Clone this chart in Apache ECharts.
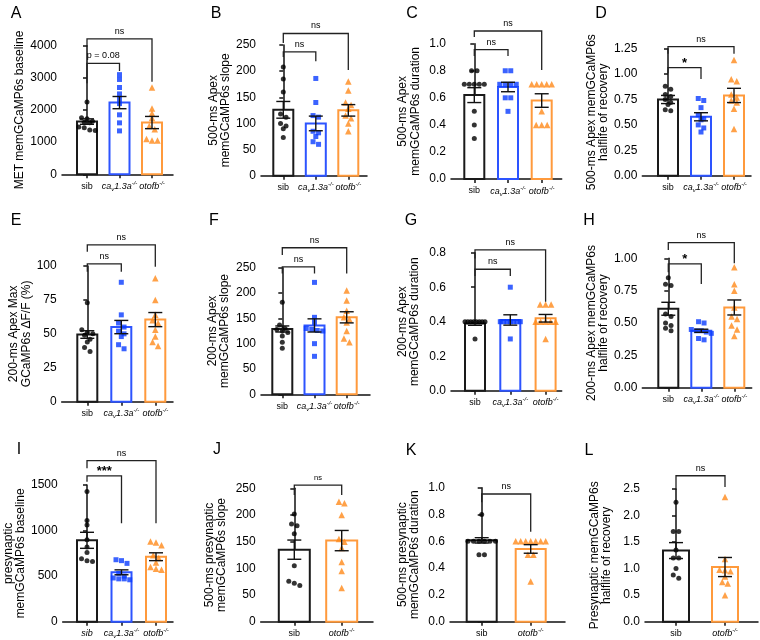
<!DOCTYPE html>
<html lang="en">
<head>
<meta charset="UTF-8">
<title>memGCaMP6s panels</title>
<script src="https://cdn.jsdelivr.net/npm/echarts@6.0.0/dist/echarts.min.js"></script>
<style>
    html, body { margin: 0; padding: 0; background: #fff; }
    #chart { width: 760px; height: 640px; }
</style>
</head>
<body>
<div id="chart"></div>
<script>
// ---- data ----
var groups3 = ['sib', 'cav', 'otofb'];
var groups2 = ['sib', 'otofb'];

// A  MET baseline
var aSib = [2250, 1760, 1730, 1650, 1620, 1600, 1470, 1450, 1380, 1360];
var aCav = [3100, 2950, 2700, 2500, 2350, 2200, 1850, 1600, 1350];
var aOto = [2700, 2050, 1900, 1750, 1500, 1400, 1100, 1050, 1050];
var aMean = [1640, 2230, 1610];
var aSem = [85, 190, 190];
var aBr = [[0, 1, 3450, 2830, 3210], [0, 2, 4210, 3970, 2880]];
var aBrText = ['p = 0.08', 'ns'];

// B  500-ms slope
var bSib = [208, 185, 160, 118, 112, 100, 95, 90, 73];
var bCav = [186, 140, 115, 112, 85, 82, 75, 65, 60];
var bOto = [180, 163, 140, 135, 128, 115, 110, 100, 85];
var bMean = [126, 100, 125];
var bSem = [16, 14, 11];
var bBr = [[0, 1, 237, 227, 219], [0, 2, 272, 254, 202]];
var bBrText = ['ns', 'ns'];

// C  500-ms duration
var cSib = [0.8, 0.8, 0.7, 0.7, 0.7, 0.7, 0.7, 0.5, 0.4, 0.3];
var cCav = [0.8, 0.8, 0.7, 0.7, 0.7, 0.7, 0.6, 0.6, 0.5];
var cOto = [0.7, 0.7, 0.7, 0.7, 0.7, 0.5, 0.4, 0.4, 0.4];
var cMean = [0.62, 0.68, 0.58];
var cSem = [0.055, 0.035, 0.05];
var cBr = [[0, 1, 0.956, 0.909, 0.909], [0, 2, 1.094, 1.05, 0.806]];
var cBrText = ['ns', 'ns'];

// D  500-ms halflife
var dSib = [0.88, 0.85, 0.80, 0.78, 0.75, 0.72, 0.70, 0.65, 0.64];
var dCav = [0.76, 0.74, 0.67, 0.60, 0.56, 0.55, 0.50, 0.47, 0.43];
var dOto = [1.14, 0.95, 0.93, 0.80, 0.77, 0.74, 0.72, 0.66, 0.46];
var dMean = [0.75, 0.58, 0.79];
var dSem = [0.04, 0.04, 0.07];
var dBr = [[0, 1, 1.063, 1.008, 0.952], [0, 2, 1.27, 1.2, 1.2]];
var dBrText = ['*', 'ns'];

// E  200-ms max dF/F
var eSib = [73, 53, 51, 50, 49, 46, 44, 40, 37];
var eCav = [88, 64, 58, 55, 52, 50, 48, 42, 39];
var eOto = [91, 75, 64, 60, 58, 53, 48, 44, 41];
var eMean = [49.5, 55, 60.5];
var eSem = [2.8, 4.9, 5.2];
var eBr = [[0, 1, 101.5, 95.8, 95.8], [0, 2, 115.5, 110.5, 99.5]];
var eBrText = ['ns', 'ns'];

// F  200-ms slope
var fSib = [182, 137, 130, 128, 125, 122, 115, 103, 91];
var fCav = [221, 152, 142, 130, 128, 126, 125, 100, 75];
var fOto = [205, 185, 165, 152, 148, 142, 125, 110, 103];
var fMean = [129, 136, 152];
var fSem = [6, 13, 11];
var fBr = [[0, 1, 251.8, 238.6, 238.6], [0, 2, 289.4, 275, 238.6]];
var fBrText = ['ns', 'ns'];

// G  200-ms duration
var gSib = [0.4, 0.4, 0.4, 0.4, 0.4, 0.4, 0.4, 0.4, 0.3];
var gCav = [0.6, 0.4, 0.4, 0.4, 0.4, 0.4, 0.4, 0.4, 0.3];
var gOto = [0.5, 0.5, 0.5, 0.4, 0.4, 0.4, 0.4, 0.4, 0.3];
var gMean = [0.39, 0.41, 0.42];
var gSem = [0.011, 0.03, 0.022];
var gBr = [[0, 1, 0.704, 0.665, 0.665], [0, 2, 0.816, 0.767, 0.516]];
var gBrText = ['ns', 'ns'];

// H  200-ms halflife
var hSib = [0.85, 0.80, 0.79, 0.57, 0.55, 0.50, 0.48, 0.46, 0.44];
var hCav = [0.51, 0.50, 0.45, 0.44, 0.44, 0.43, 0.42, 0.38, 0.37];
var hOto = [0.93, 0.80, 0.75, 0.62, 0.55, 0.53, 0.48, 0.45, 0.40];
var hMean = [0.61, 0.44, 0.62];
var hSem = [0.05, 0.012, 0.058];
var hBr = [[0, 1, 0.957, 0.892, 0.802], [0, 2, 1.121, 1.065, 0.962]];
var hBrText = ['*', 'ns'];

// I  presynaptic baseline
var iSib = [1430, 1110, 1060, 900, 820, 760, 690, 670, 660];
var iCav = [680, 670, 640, 530, 500, 480, 470, 470, 460];
var iOto = [880, 870, 840, 730, 700, 650, 600, 580, 570];
var iMean = [893, 542, 713];
var iSem = [88, 27, 43];
var iBr = [[0, 1, 1600, 1537, 1080], [0, 2, 1767, 1684, 1080]];
var iBrText = ['***', 'ns'];

// J  500-ms presynaptic slope
var jSib = [202, 183, 180, 165, 105, 76, 72, 68];
var jOto = [225, 222, 200, 155, 150, 138, 112, 95, 63];
var jMean = [135, 152];
var jSem = [18, 19];
var jBr = [[0, 1, 256, 237.6, 237.6]];
var jBrText = ['ns'];

// K  500-ms presynaptic duration
var kSib = [0.8, 0.6, 0.6, 0.6, 0.6, 0.6, 0.6, 0.5, 0.5];
var kOto = [0.6, 0.6, 0.6, 0.6, 0.6, 0.6, 0.6, 0.5, 0.5, 0.3];
var kMean = [0.607, 0.543];
var kSem = [0.02, 0.032];
var kBr = [[0, 1, 0.953, 0.891, 0.672]];
var kBrText = ['ns'];

// L  presynaptic halflife
var lSib = [2.25, 1.70, 1.70, 1.35, 1.20, 1.20, 1.0, 0.88, 0.82];
var lOto = [2.35, 1.18, 0.98, 0.97, 0.95, 0.85, 0.75, 0.72, 0.5];
var lMean = [1.34, 1.03];
var lSem = [0.15, 0.18];
var lBr = [[0, 1, 2.75, 2.48, 2.54]];
var lBrText = ['ns'];

// ---- styles ----
var FONT = '"Liberation Sans", Arial, Helvetica, sans-serif';
var look = {
    sib:   { bar: '#1a1a1a', pt: '#000000', symbol: 'circle',   size: 5 },
    cav:   { bar: '#2d54ff', pt: '#0a3cff', symbol: 'rect',     size: 5 },
    otofb: { bar: '#ff9a3c', pt: '#ff8a1a', symbol: 'triangle', size: 6.5 }
};

// panel layout (pixels)
var panels = [
    { L: 'A', g: groups3, pts: [aSib, aCav, aOto], mean: aMean, sem: aSem, br: aBr, brText: aBrText,
      max: 4000, step: 1000, dec: 0, name: 'MET memGCaMP6s baseline', nameGap: 34,
      left: 62, top: 45.7, bottom: 174.3, end: 173, c0: 87, sp: 32.5, barW: 22, letter: [16, 14] },
    { L: 'B', g: groups3, pts: [bSib, bCav, bOto], mean: bMean, sem: bSem, br: bBr, brText: bBrText,
      max: 250, step: 50, dec: 0, name: '500-ms Apex\nmemGCaMP6s slope', nameGap: 28.5,
      left: 261, top: 45, bottom: 175.7, end: 367, c0: 283.3, sp: 32.5, barW: 22, letter: [216, 14] },
    { L: 'C', g: groups3, pts: [cSib, cCav, cOto], mean: cMean, sem: cSem, br: cBr, brText: cBrText,
      max: 1.0, step: 0.2, dec: 1, name: '500-ms Apex\nmemGCaMP6s duration', nameGap: 29.5,
      left: 451, top: 43.7, bottom: 179, end: 561.7, c0: 474.3, sp: 33.7, barW: 22, letter: [412, 14] },
    { L: 'D', g: groups3, pts: [dSib, dCav, dOto], mean: dMean, sem: dSem, br: dBr, brText: dBrText,
      max: 1.25, step: 0.25, dec: 2, name: '500-ms Apex memGCaMP6s\nhalflife of recovery', nameGap: 29.6,
      left: 642.3, top: 48.7, bottom: 175.7, end: 751, c0: 668, sp: 33, barW: 22, letter: [601, 14] },
    { L: 'E', g: groups3, pts: [eSib, eCav, eOto], mean: eMean, sem: eSem, br: eBr, brText: eBrText,
      max: 100, step: 25, dec: 0, name: '200-ms Apex Max\nGCaMP6s \u0394F/F (%)', nameGap: 29.2,
      left: 61.7, top: 266, bottom: 401.7, end: 173, c0: 87.3, sp: 34, barW: 22, letter: [16, 221] },
    { L: 'F', g: groups3, pts: [fSib, fCav, fOto], mean: fMean, sem: fSem, br: fBr, brText: fBrText,
      max: 250, step: 50, dec: 0, name: '200-ms Apex\nmemGCaMP6s slope', nameGap: 30,
      left: 261, top: 267.7, bottom: 394.3, end: 370, c0: 282.3, sp: 32.2, barW: 22, letter: [214, 221] },
    { L: 'G', g: groups3, pts: [gSib, gCav, gOto], mean: gMean, sem: gSem, br: gBr, brText: gBrText,
      max: 0.8, step: 0.2, dec: 1, name: '200-ms Apex\nmemGCaMP6s duration', nameGap: 30,
      left: 451, top: 252.7, bottom: 390.7, end: 561.7, c0: 475, sp: 35.3, barW: 22, letter: [411, 221] },
    { L: 'H', g: groups3, pts: [hSib, hCav, hOto], mean: hMean, sem: hSem, br: hBr, brText: hBrText,
      max: 1.0, step: 0.25, dec: 2, name: '200-ms Apex memGCaMP6s\nhalflife of recovery', nameGap: 30,
      left: 642.3, top: 258.3, bottom: 387.7, end: 751.7, c0: 668.3, sp: 33, barW: 22, letter: [589, 221] },
    { L: 'I', g: groups3, pts: [iSib, iCav, iOto], mean: iMean, sem: iSem, br: iBr, brText: iBrText,
      max: 1500, step: 500, dec: 0, name: 'presynaptic\nmemGCaMP6s baseline', nameGap: 34.7, italicSib: true,
      left: 62.7, top: 485, bottom: 621.7, end: 173, c0: 87, sp: 34.5, barW: 22, letter: [19, 450] },
    { L: 'J', g: groups2, pts: [jSib, jOto], mean: jMean, sem: jSem, br: jBr, brText: jBrText, brSize: 7.5,
      max: 250, step: 50, dec: 0, name: '500-ms presynaptic\nmemGCaMP6s slope', nameGap: 32.7,
      left: 260.7, top: 488.3, bottom: 621.7, end: 373, c0: 294.3, sp: 47.4, barW: 33, letter: [217, 450] },
    { L: 'K', g: groups2, pts: [kSib, kOto], mean: kMean, sem: kSem, br: kBr, brText: kBrText,
      max: 1.0, step: 0.2, dec: 1, name: '500-ms presynaptic\nmemGCaMP6s duration', nameGap: 29,
      left: 450, top: 487.7, bottom: 621.7, end: 565, c0: 481.7, sp: 49, barW: 32, letter: [411, 451] },
    { L: 'L', g: groups2, pts: [lSib, lOto], mean: lMean, sem: lSem, br: lBr, brText: lBrText,
      max: 2.5, step: 0.5, dec: 1, name: 'Presynaptic memGCaMP6s\nhalflife of recovery', nameGap: 31.7,
      left: 645, top: 489, bottom: 621.7, end: 758, c0: 676, sp: 49, barW: 28, letter: [589, 451] }
];

// spread points that sit at nearly the same height into a row
function swarm(vals, pxY, sp, d, half) {
    var idx = vals.map(function (v, i) { return i; })
        .sort(function (a, b) { return vals[b] - vals[a]; });
    var off = [], k = 0;
    while (k < idx.length) {
        var row = [idx[k]], y0 = vals[idx[k]] * pxY;
        k++;
        while (k < idx.length && y0 - vals[idx[k]] * pxY < d * 0.8) { row.push(idx[k]); k++; }
        var st = row.length > 1 ? Math.min(d, 2 * half / (row.length - 1)) : 0;
        row.forEach(function (id, r) { off[id] = (r - (row.length - 1) / 2) * st / sp; });
    }
    return off;
}

function catLabel(g, italicSib) {
    if (g === 'sib') return italicSib ? '{it|sib}' : '{n|sib}';
    if (g === 'cav') return '{it|ca}{sub|v}{it|1.3a}{sup|-/-}';
    return '{it|otofb}{sup|-/-}';
}

var grids = [], xAxes = [], yAxes = [], series = [], graphics = [];

panels.forEach(function (p, i) {
    var ticks = p.g.map(function (g, j) { return j; });
    grids.push({ left: p.left, top: p.top, width: p.end - p.left, height: p.bottom - p.top });

    xAxes.push({
        gridIndex: i, type: 'value',
        min: -(p.c0 - p.left) / p.sp, max: (p.end - p.c0) / p.sp,
        axisLine: { show: true, onZero: false, lineStyle: { color: '#111', width: 1.5 } },
        axisTick: { show: true, customValues: ticks, length: 4, lineStyle: { color: '#111', width: 1.5 } },
        axisLabel: {
            customValues: ticks, margin: 6, color: '#000',
            hideOverlap: false, showMinLabel: true, showMaxLabel: true,
            formatter: function (v) { return catLabel(p.g[Math.round(v)], p.italicSib); },
            rich: {
                n:   { fontSize: 9, fontFamily: FONT, color: '#000', lineHeight: 12 },
                it:  { fontSize: 9, fontFamily: FONT, fontStyle: 'italic', color: '#000', lineHeight: 12 },
                sup: { fontSize: 6, fontFamily: FONT, fontStyle: 'italic', color: '#000', lineHeight: 6, verticalAlign: 'top' },
                sub: { fontSize: 6, fontFamily: FONT, fontStyle: 'italic', color: '#000', lineHeight: 6, verticalAlign: 'bottom' }
            }
        },
        splitLine: { show: false }
    });

    yAxes.push({
        gridIndex: i, type: 'value', min: 0, max: p.max, interval: p.step,
        axisLine: { show: true, lineStyle: { color: '#111', width: 1.5 } },
        axisTick: { show: true, length: 4, lineStyle: { color: '#111', width: 1.5 } },
        axisLabel: {
            margin: 5, fontSize: 12, fontFamily: FONT, color: '#000',
            formatter: function (v) { return v.toFixed(p.dec); }
        },
        splitLine: { show: false },
        name: p.name, nameLocation: 'middle', nameGap: p.nameGap,
        nameTextStyle: { fontSize: 12, fontFamily: FONT, color: '#000', lineHeight: 12.5 }
    });

    // bars (white fill, coloured outline)
    series.push({
        type: 'custom', xAxisIndex: i, yAxisIndex: i, z: 1,
        data: p.mean.map(function (m, j) { return [j, m]; }),
        renderItem: function (params, api) {
            var j = api.value(0);
            var top = api.coord([j, api.value(1)]);
            var base = api.coord([j, 0]);
            var w = p.barW - 2;
            return {
                type: 'rect',
                shape: { x: top[0] - w / 2, y: top[1], width: w, height: base[1] - top[1] },
                style: { fill: '#fff', stroke: look[p.g[j]].bar, lineWidth: 2 }
            };
        }
    });

    // individual points
    var pxY = (p.bottom - p.top) / p.max;
    p.pts.forEach(function (vals, j) {
        var lk = look[p.g[j]];
        var off = swarm(vals, pxY, p.sp, 5.5, p.barW / 2 - 1);
        series.push({
            type: 'scatter', xAxisIndex: i, yAxisIndex: i, z: 2,
            symbol: lk.symbol, symbolSize: lk.size,
            itemStyle: { color: lk.pt },
            data: vals.map(function (v, k) { return [j + off[k], v]; })
        });
    });

    // mean +/- SEM
    series.push({
        type: 'custom', xAxisIndex: i, yAxisIndex: i, z: 3,
        data: p.mean.map(function (m, j) { return [j, m, p.sem[j]]; }),
        renderItem: function (params, api) {
            var j = api.value(0), m = api.value(1), s = api.value(2);
            var hi = api.coord([j, m + s]), lo = api.coord([j, m - s]);
            var cw = 7;
            var st = { stroke: '#111', lineWidth: 1.4 };
            return {
                type: 'group',
                children: [
                    { type: 'line', shape: { x1: hi[0], y1: hi[1], x2: lo[0], y2: lo[1] }, style: st },
                    { type: 'line', shape: { x1: hi[0] - cw, y1: hi[1], x2: hi[0] + cw, y2: hi[1] }, style: st },
                    { type: 'line', shape: { x1: lo[0] - cw, y1: lo[1], x2: lo[0] + cw, y2: lo[1] }, style: st }
                ]
            };
        }
    });

    // significance brackets
    series.push({
        type: 'custom', xAxisIndex: i, yAxisIndex: i, z: 4, clip: false,
        data: p.br,
        renderItem: function (params, api) {
            var a = api.value(0), b = api.value(1);
            var pl = api.coord([a, api.value(3)]);
            var tl = api.coord([a, api.value(2)]);
            var tr = api.coord([b, api.value(2)]);
            var pr = api.coord([b, api.value(4)]);
            var txt = p.brText[params.dataIndex];
            var star = txt.charAt(0) === '*';
            var fs = star ? 13 : (p.brSize || 9);
            return {
                type: 'group',
                children: [
                    { type: 'polyline', shape: { points: [pl, tl, tr, pr] },
                      style: { fill: null, stroke: '#222', lineWidth: 1.3 } },
                    { type: 'text',
                      style: { text: txt, x: (tl[0] + tr[0]) / 2, y: tl[1] - (star ? -2 : 3),
                               align: 'center', verticalAlign: 'bottom',
                               textAlign: 'center', textVerticalAlign: 'bottom',
                               fontSize: fs, fontWeight: star ? 'bold' : 'normal',
                               fontFamily: FONT, fill: '#000' } }
                ]
            };
        }
    });

    graphics.push({
        type: 'text', x: p.letter[0], y: p.letter[1],
        style: { text: p.L, fontSize: 16, fontFamily: FONT, fill: '#000',
                 align: 'center', verticalAlign: 'middle',
                 textAlign: 'center', textVerticalAlign: 'middle' }
    });
});

var chart = echarts.init(document.getElementById('chart'));
chart.setOption({
    animation: false,
    backgroundColor: '#fff',
    textStyle: { fontFamily: FONT },
    grid: grids,
    xAxis: xAxes,
    yAxis: yAxes,
    series: series,
    graphic: graphics
});
</script>
</body>
</html>
